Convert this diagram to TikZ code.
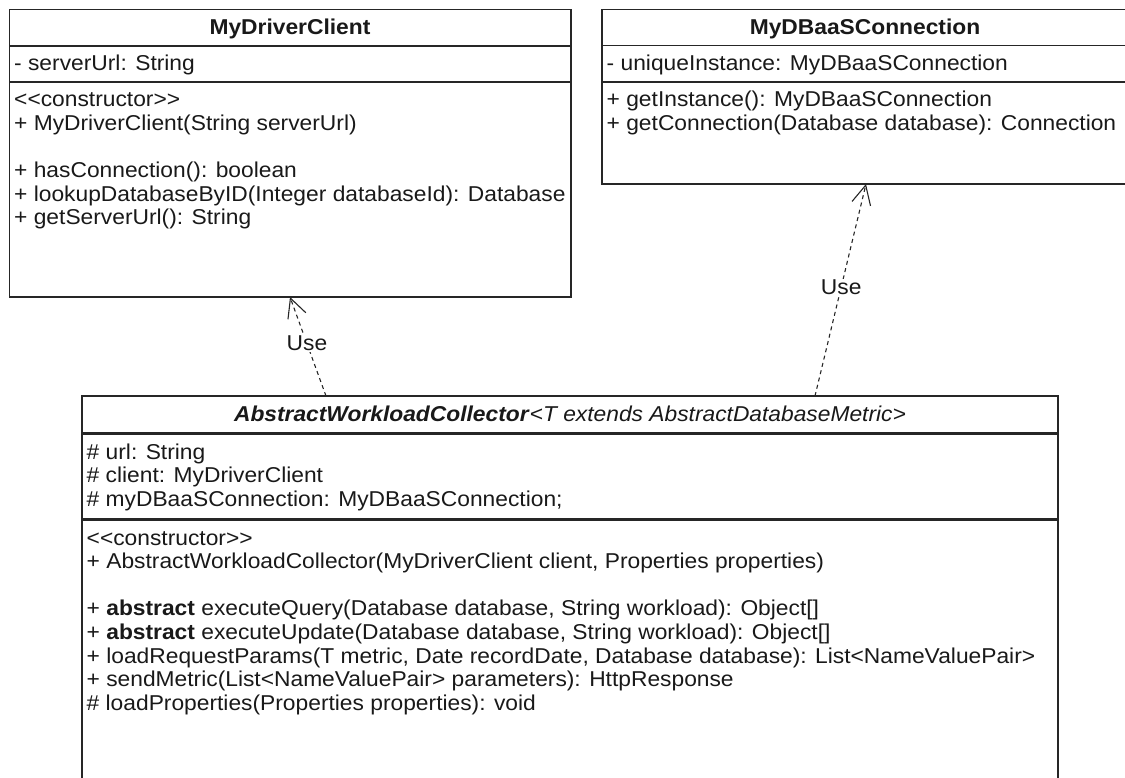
\documentclass[tikz,border=0pt]{standalone}
\usepackage{fontspec}
\setmainfont{Liberation Sans}[FakeStretch=1.06]
\usetikzlibrary{arrows.meta}
\begin{document}
\begin{tikzpicture}[x=1pt,y=-1pt,
  comp/.style={draw=black!85, line width=1.2pt, anchor=north west, inner sep=0pt, outer sep=0pt},
  txt/.style={anchor=base west, inner sep=0pt, font=\fontsize{21.5}{23.6}\selectfont, text=black!90},
  ttl/.style={anchor=base, inner sep=0pt, font=\fontsize{21.5}{23.6}\selectfont, text=black!90},
  lbl/.style={anchor=center, inner sep=1pt, fill=white, text depth=0pt, font=\fontsize{21.5}{23.6}\selectfont, text=black!90},
  dep/.style={draw=black!85, line width=1.1pt, dash pattern=on 4pt off 3.5pt, -{Straight Barb[length=19pt,width=19pt]}}
]
\useasboundingbox (0,0) rectangle (1125,778);
\clip (0,0) rectangle (1125,778);
% MyDriverClient
\node[comp, minimum width=561.5pt, minimum height=36.5pt] (dct) at (9.5,9.5) {};
\node[comp, minimum width=561.5pt, minimum height=36pt] (dca) at (9.5,46) {};
\node[comp, minimum width=561.5pt, minimum height=215pt] (dcm) at (9.5,82) {};
\node[ttl] (dcn) at (290,35) {\bfseries MyDriverClient};
\node[txt] (dca1) at (14,71) {- serverUrl: String};
\node[txt] (dcm1) at (14,107) {{<}{<}constructor{>}{>}};
\node[txt] (dcm2) at (14,130.6) {+ MyDriverClient(String serverUrl)};
\node[txt] (dcm3) at (14,177.8) {+ hasConnection(): boolean};
\node[txt] (dcm4) at (14,201.4) {+ lookupDatabaseByID(Integer databaseId): Database};
\node[txt] (dcm5) at (14,225) {+ getServerUrl(): String};
% MyDBaaSConnection
\node[comp, minimum width=526pt, minimum height=36pt] (dbt) at (602,9.5) {};
\node[comp, minimum width=526pt, minimum height=36.5pt] (dba) at (602,45.5) {};
\node[comp, minimum width=526pt, minimum height=102pt] (dbm) at (602,82) {};
\node[ttl] (dbn) at (865,35) {\bfseries MyDBaaSConnection};
\node[txt] (dba1) at (606.5,71) {- uniqueInstance: MyDBaaSConnection};
\node[txt] (dbm1) at (606.5,107) {+ getInstance(): MyDBaaSConnection};
\node[txt] (dbm2) at (606.5,130.6) {+ getConnection(Database database): Connection};
% AbstractWorkloadCollector
\node[comp, minimum width=976pt, minimum height=37pt] (awt) at (82,396) {};
\node[comp, minimum width=976pt, minimum height=84.5pt] (awa) at (82,434.5) {};
\node[comp, minimum width=976pt, minimum height=300pt] (awm) at (82,520.5) {};
\node[ttl] (awn) at (570,421.5) {\textbf{\textit{AbstractWorkloadCollector}}\textit{{<}T extends AbstractDatabaseMetric{>}}};
\node[txt] (awa1) at (86.5,459) {\# url: String};
\node[txt] (awa2) at (86.5,482.6) {\# client: MyDriverClient};
\node[txt] (awa3) at (86.5,506.2) {\# myDBaaSConnection: MyDBaaSConnection;};
\node[txt] (awm1) at (86.5,545) {{<}{<}constructor{>}{>}};
\node[txt] (awm2) at (86.5,568.6) {+ AbstractWorkloadCollector(MyDriverClient client, Properties properties)};
\node[txt] (awm3) at (86.5,615.8) {+ \textbf{abstract} executeQuery(Database database, String workload): Object[]};
\node[txt] (awm4) at (86.5,639.4) {+ \textbf{abstract} executeUpdate(Database database, String workload): Object[]};
\node[txt] (awm5) at (86.5,663) {+ loadRequestParams(T metric, Date recordDate, Database database): List{<}NameValuePair{>}};
\node[txt] (awm6) at (86.5,686.6) {+ sendMetric(List{<}NameValuePair{>} parameters): HttpResponse};
\node[txt] (awm7) at (86.5,710.2) {\# loadProperties(Properties properties): void};
% dependencies
\coordinate (u1s) at (326,396);
\coordinate (u1e) at (290,297);
\coordinate (u2s) at (815,396);
\coordinate (u2e) at (866,184);
\draw[dep] (u1s) -- node[lbl, pos=0.53] (use1) {Use} (u1e);
\draw[dep] (u2s) -- node[lbl, pos=0.513] (use2) {Use} (u2e);
\end{tikzpicture}
\end{document}
